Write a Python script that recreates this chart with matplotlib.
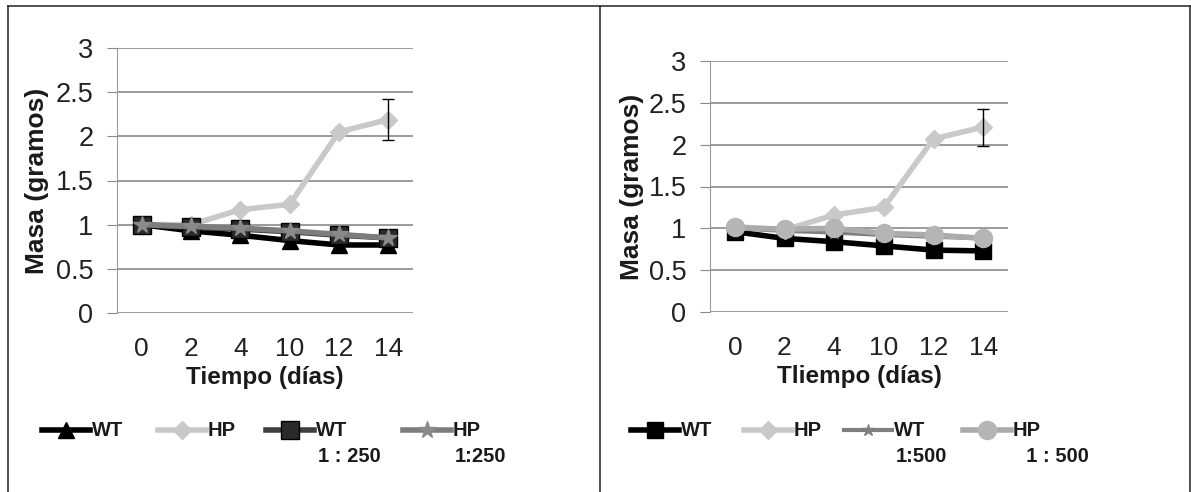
import matplotlib.pyplot as plt
import numpy as np
from matplotlib.lines import Line2D

plt.rcParams['font.family'] = ['Liberation Sans', 'DejaVu Sans']

days = ['0', '2', '4', '10', '12', '14']

# panel 1 (1:250)
wt_a = [1.0, 0.93, 0.88, 0.82, 0.77, 0.77]
hp_a = [1.0, 1.0, 1.17, 1.23, 2.05, 2.19]
hp_a_err = [0, 0, 0, 0, 0, 0.23]
wt250 = [1.0, 0.97, 0.95, 0.92, 0.88, 0.85]
hp250 = [1.0, 0.98, 0.96, 0.93, 0.89, 0.85]

# panel 2 (1:500)
wt_b = [0.96, 0.88, 0.84, 0.79, 0.74, 0.73]
hp_b = [1.02, 0.98, 1.16, 1.25, 2.07, 2.21]
hp_b_err = [0, 0, 0, 0, 0, 0.22]
wt500 = [1.0, 0.97, 0.95, 0.92, 0.90, 0.88]
hp500 = [1.01, 0.99, 1.0, 0.94, 0.92, 0.88]

labels_a = ['WT', 'HP', 'WT', 'HP']
sub_a = ['', '', '1 : 250', '1:250']
labels_b = ['WT', 'HP', 'WT', 'HP']
sub_b = ['', '', '1:500', '  1 : 500']

styles_a = [
    dict(color='black', lw=4, marker='^', ms=12, mfc='black', mec='black'),
    dict(color='#c9c9c9', lw=4, marker='D', ms=9, mfc='#c9c9c9', mec='#c9c9c9'),
    dict(color='#3f3f3f', lw=4, marker='s', ms=13, mfc='#2a2a2a', mec='black'),
    dict(color='#7d7d7d', lw=4, marker='*', ms=13, mfc='#8a8a8a', mec='#8a8a8a'),
]
styles_b = [
    dict(color='black', lw=4, marker='s', ms=11, mfc='black', mec='black'),
    dict(color='#c9c9c9', lw=4, marker='D', ms=9, mfc='#c9c9c9', mec='#c9c9c9'),
    dict(color='#7f7f7f', lw=3, marker='*', ms=9, mfc='#7f7f7f', mec='#7f7f7f'),
    dict(color='#ababab', lw=4, marker='o', ms=13, mfc='#b5b5b5', mec='#b5b5b5'),
]

fig = plt.figure(figsize=(11.91, 4.92), dpi=100)


def panel(rect, series, err, styles, xlabel, ylab_x):
    ax = fig.add_axes(rect)
    for vals, st in zip(series, styles):
        ax.plot(days, vals, zorder=3, **st)
    e = np.array(err)
    m = e > 0
    ax.errorbar(np.arange(len(days))[m], np.array(series[1])[m], yerr=e[m],
                fmt='none', ecolor='black', elinewidth=1, capsize=4, capthick=1, zorder=4)
    ax.set_xlim(-0.5, 5.5)
    ax.set_ylim(0, 3)
    ax.set_yticks([0, 0.5, 1, 1.5, 2, 2.5, 3])
    ax.set_yticklabels(['0', '0.5', '1', '1.5', '2', '2.5', '3'])
    ax.grid(axis='y', color='#8a8a8a', lw=1.2)
    ax.set_axisbelow(True)
    for s in ['top', 'right', 'bottom']:
        ax.spines[s].set_visible(False)
    ax.spines['left'].set_color('#9a9a9a')
    ax.tick_params(axis='y', length=7, color='#8a8a8a', labelsize=19.5, labelcolor='#222222', pad=10)
    ax.tick_params(axis='x', length=0, labelsize=19, labelcolor='#222222', pad=17)
    ax.set_facecolor('white')
    ax.set_xlabel(xlabel, fontsize=17.5, fontweight='bold', color='#1a1a1a', labelpad=4)
    ax.set_ylabel('Masa (gramos)', fontsize=19, fontweight='bold', color='#1a1a1a')
    ax.yaxis.set_label_coords(ylab_x, 0.5)
    return ax


ax1 = panel([117 / 1191, 1 - 313 / 492, 296 / 1191, 265 / 492],
            [wt_a, hp_a, wt250, hp250], hp_a_err, styles_a, 'Tiempo (días)', -0.23)
ax2 = panel([710 / 1191, 1 - 312 / 492, 298 / 1191, 251 / 492],
            [wt_b, hp_b, wt500, hp500], hp_b_err, styles_b, 'Tliempo (días)', -0.22)


def legend(x_starts, labels, subs, styles):
    y1 = 1 - 430 / 492
    y2 = 1 - 456 / 492
    for x0, lab, sub, st in zip(x_starts, labels, subs, styles):
        xa, xb = x0 / 1191, (x0 + 48) / 1191
        fig.add_artist(Line2D([xa, (xa + xb) / 2, xb], [y1] * 3, transform=fig.transFigure,
                              markevery=[1], **st))
        fig.text(xb + 2 / 1191, y1, lab, fontsize=14.5, fontweight='bold', color='#1a1a1a',
                 va='center', ha='left')
        if sub:
            fig.text(xb + 4 / 1191, y2, sub, fontsize=14.5, fontweight='bold', color='#1a1a1a',
                     va='center', ha='left')


legend([42, 158, 266, 403], labels_a, sub_a, styles_a)
legend([631, 744, 844, 963], labels_b, sub_b, styles_b)

# panel frames
for xs, ys in [([8, 1190], [6, 6]), ([600, 600], [6, 492]),
               ([1190, 1190], [6, 492]), ([8, 8], [6, 492])]:
    fig.add_artist(Line2D([x / 1191 for x in xs], [1 - y / 492 for y in ys],
                          transform=fig.transFigure, color='#333333', lw=1.2))

fig.savefig('out.png', dpi=100, facecolor='white')
